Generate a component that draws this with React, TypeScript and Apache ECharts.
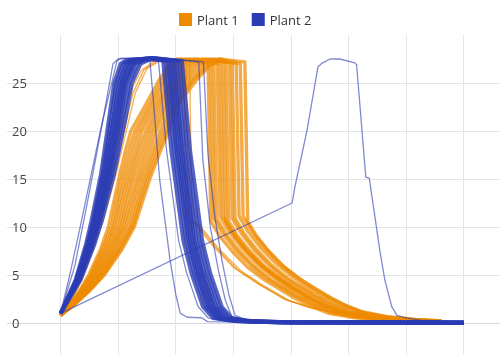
import React, { useEffect, useRef } from "react";
import * as echarts from "echarts";

type Curve = number[][];

const seriesNames = ["Plant 1", "Plant 2"];
const seriesColors = ["#ee8a00", "#2b3cb4"];
const yTickValues = [0, 5, 10, 15, 20, 25];
const xGridValues = [0, 1, 2, 3, 4, 5, 6, 7];

// Plant 1: main bundle (rise, plateau, drop, decay)
const plant1Main: Curve[] = [
  [[0,0.8],[0.16,1.9],[0.31,3.2],[0.49,5.0],[0.69,7.6],[0.83,10],[1.01,15],[1.13,18],[1.22,20],[1.50,23],[1.71,25.3],[1.88,26.8],[2.02,27.5],[2.61,27.1],[2.66,10.9],[2.82,9.3],[3.04,7.6],[3.30,6.0],[3.59,4.6],[3.86,3.6],[4.11,2.7],[4.37,1.9],[4.71,1.1],[5.16,0.6],[5.66,0.35],[6.26,0.2]],
  [[0,0.8],[0.16,1.9],[0.33,3.2],[0.52,5.0],[0.72,7.6],[0.88,10],[1.06,15],[1.19,18],[1.29,20],[1.56,23],[1.77,25.3],[1.95,26.8],[2.09,27.5],[2.56,27.2],[2.61,10.6],[2.77,9.0],[2.99,7.4],[3.25,5.8],[3.54,4.5],[3.81,3.5],[4.06,2.6],[4.32,1.8],[4.66,1.0],[5.11,0.55],[5.61,0.3],[6.21,0.18]],
  [[0,0.8],[0.17,1.9],[0.34,3.2],[0.54,5.0],[0.76,7.6],[0.92,10],[1.11,15],[1.25,18],[1.35,20],[1.61,23],[1.83,25.3],[2.01,26.8],[2.17,27.5],[2.72,27.0],[2.77,11.1],[2.93,9.5],[3.15,7.8],[3.41,6.2],[3.70,4.8],[3.97,3.7],[4.22,2.8],[4.48,2.0],[4.82,1.2],[5.27,0.65],[5.77,0.38],[6.37,0.22]],
  [[0,0.8],[0.18,1.9],[0.36,3.2],[0.57,5.0],[0.79,7.6],[0.96,10],[1.16,15],[1.31,18],[1.41,20],[1.67,23],[1.90,25.3],[2.08,26.8],[2.24,27.5],[2.66,27.1],[2.71,10.9],[2.87,9.3],[3.09,7.6],[3.35,6.0],[3.64,4.6],[3.91,3.6],[4.16,2.7],[4.42,1.9],[4.76,1.1],[5.21,0.6],[5.71,0.35],[6.31,0.2]],
  [[0,0.8],[0.19,1.9],[0.38,3.2],[0.59,5.0],[0.83,7.6],[1.01,10],[1.21,15],[1.36,18],[1.48,20],[1.72,23],[1.96,25.3],[2.15,26.8],[2.31,27.5],[2.82,27.2],[2.87,10.6],[3.03,9.0],[3.25,7.4],[3.51,5.8],[3.80,4.5],[4.07,3.5],[4.32,2.6],[4.58,1.8],[4.92,1.0],[5.37,0.55],[5.87,0.3],[6.47,0.18]],
  [[0,0.8],[0.20,1.9],[0.39,3.2],[0.62,5.0],[0.86,7.6],[1.05,10],[1.26,15],[1.42,18],[1.54,20],[1.77,23],[2.02,25.3],[2.22,26.8],[2.38,27.5],[2.77,27.0],[2.82,11.1],[2.98,9.5],[3.20,7.8],[3.46,6.2],[3.75,4.8],[4.02,3.7],[4.27,2.8],[4.53,2.0],[4.87,1.2],[5.32,0.65],[5.82,0.38],[6.42,0.22]],
  [[0,0.8],[0.20,1.9],[0.41,3.2],[0.64,5.0],[0.90,7.6],[1.09,10],[1.32,15],[1.48,18],[1.60,20],[1.83,23],[2.08,25.3],[2.28,26.8],[2.46,27.5],[2.93,27.1],[2.98,10.9],[3.14,9.3],[3.36,7.6],[3.62,6.0],[3.91,4.6],[4.18,3.6],[4.43,2.7],[4.69,1.9],[5.03,1.1],[5.48,0.6],[5.98,0.35],[6.58,0.2]],
  [[0,0.8],[0.21,1.9],[0.42,3.2],[0.67,5.0],[0.93,7.6],[1.13,10],[1.37,15],[1.54,18],[1.66,20],[1.88,23],[2.14,25.3],[2.35,26.8],[2.53,27.5],[2.87,27.2],[2.92,10.6],[3.08,9.0],[3.30,7.4],[3.56,5.8],[3.85,4.5],[4.12,3.5],[4.37,2.6],[4.63,1.8],[4.97,1.0],[5.42,0.55],[5.92,0.3],[6.52,0.18]],
  [[0,0.8],[0.22,1.9],[0.44,3.2],[0.69,5.0],[0.97,7.6],[1.18,10],[1.42,15],[1.60,18],[1.73,20],[1.94,23],[2.20,25.3],[2.42,26.8],[2.60,27.5],[3.05,27.0],[3.10,11.1],[3.26,9.5],[3.48,7.8],[3.74,6.2],[4.03,4.8],[4.30,3.7],[4.55,2.8],[4.81,2.0],[5.15,1.2],[5.60,0.65],[6.10,0.38],[6.62,0.22]],
  [[0,0.8],[0.23,1.9],[0.46,3.2],[0.72,5.0],[1.00,7.6],[1.22,10],[1.47,15],[1.65,18],[1.79,20],[1.99,23],[2.27,25.3],[2.49,26.8],[2.67,27.5],[2.98,27.1],[3.03,10.9],[3.19,9.3],[3.41,7.6],[3.67,6.0],[3.96,4.6],[4.23,3.6],[4.48,2.7],[4.74,1.9],[5.08,1.1],[5.53,0.6],[6.03,0.35],[6.62,0.2]],
  [[0,0.8],[0.23,1.9],[0.47,3.2],[0.74,5.0],[1.03,7.6],[1.25,10],[1.51,15],[1.70,18],[1.84,20],[2.03,23],[2.31,25.3],[2.54,26.8],[2.73,27.5],[3.20,27.2],[3.25,10.6],[3.41,9.0],[3.63,7.4],[3.89,5.8],[4.18,4.5],[4.45,3.5],[4.70,2.6],[4.96,1.8],[5.30,1.0],[5.75,0.55],[6.25,0.3],[6.62,0.18]],
  [[0,0.8],[0.24,1.9],[0.48,3.2],[0.76,5.0],[1.06,7.6],[1.28,10],[1.55,15],[1.74,18],[1.88,20],[2.07,23],[2.36,25.3],[2.59,26.8],[2.78,27.5],[3.12,27.0],[3.17,11.1],[3.33,9.5],[3.55,7.8],[3.81,6.2],[4.10,4.8],[4.37,3.7],[4.62,2.8],[4.88,2.0],[5.22,1.2],[5.67,0.65],[6.17,0.38],[6.62,0.22]],
];

// Plant 1: early risers with the lower decay path
const plant1Early: Curve[] = [
  [[0,0.8],[0.18,2.5],[0.35,5.0],[0.55,8.5],[0.68,11],[0.85,15],[1.02,19.5],[1.20,24],[1.40,26.3],[1.65,27.4],[2.18,27.3],[2.22,10.7],[2.37,10.3],[2.68,8.0],[3.06,5.6],[3.46,4.0],[3.93,2.4],[4.33,1.6],[4.85,0.95],[5.55,0.5],[6.41,0.25]],
  [[0,0.8],[0.20,2.5],[0.38,5.0],[0.58,8.5],[0.72,11],[0.90,15],[1.08,19.5],[1.26,24],[1.45,26.4],[1.70,27.4],[2.24,27.3],[2.28,10.5],[2.42,10.1],[2.74,7.8],[3.12,5.5],[3.52,3.9],[3.98,2.3],[4.38,1.6],[4.90,0.9],[5.60,0.48],[6.45,0.24]],
  [[0,0.8],[0.22,2.6],[0.40,5.0],[0.62,8.6],[0.76,11],[0.94,15],[1.12,19.5],[1.30,24],[1.50,26.5],[1.75,27.4],[2.14,27.3],[2.18,10.8],[2.33,10.4],[2.62,8.2],[3.00,5.8],[3.40,4.2],[3.88,2.5],[4.28,1.7],[4.80,1.0],[5.50,0.52],[6.38,0.26]],
];

// Plant 2: main bundle
const plant2Main: Curve[] = [
  [[0,1.0],[0.26,4.5],[0.44,8.2],[0.53,10.5],[0.70,15.5],[0.84,21.3],[0.93,25.0],[1.04,27.0],[1.14,27.4],[1.50,27.5],[1.90,27.3],[2.04,18],[2.25,8.6],[2.39,5.2],[2.59,1.7],[2.77,0.5],[3.12,0.2],[3.81,0.08],[7,0.03]],
  [[0,1.0],[0.27,4.5],[0.46,8.2],[0.56,10.5],[0.73,15.5],[0.88,21.3],[0.97,25.0],[1.09,27.0],[1.20,27.4],[1.55,27.6],[1.83,27.3],[1.97,18],[2.18,8.6],[2.32,5.2],[2.52,1.7],[2.70,0.5],[3.05,0.2],[3.74,0.08],[7,0.03]],
  [[0,1.0],[0.28,4.5],[0.48,8.2],[0.58,10.5],[0.76,15.5],[0.92,21.3],[1.02,25.0],[1.14,27.0],[1.25,27.4],[1.58,27.6],[2.01,27.3],[2.15,18],[2.36,8.6],[2.50,5.2],[2.70,1.7],[2.88,0.5],[3.23,0.2],[3.92,0.08],[7,0.03]],
  [[0,1.0],[0.29,4.5],[0.49,8.2],[0.60,10.5],[0.79,15.5],[0.95,21.3],[1.05,25.0],[1.17,27.0],[1.29,27.4],[1.52,27.6],[1.94,27.3],[2.08,18],[2.29,8.6],[2.43,5.2],[2.63,1.7],[2.81,0.5],[3.16,0.2],[3.85,0.08],[7,0.03]],
  [[0,1.0],[0.30,4.5],[0.51,8.2],[0.62,10.5],[0.81,15.5],[0.98,21.3],[1.08,25.0],[1.21,27.0],[1.33,27.4],[1.62,27.6],[2.11,27.3],[2.25,18],[2.46,8.6],[2.60,5.2],[2.80,1.7],[2.98,0.5],[3.33,0.2],[4.02,0.08],[7,0.03]],
  [[0,1.0],[0.31,4.5],[0.53,8.2],[0.64,10.5],[0.83,15.5],[1.01,21.3],[1.11,25.0],[1.25,27.0],[1.37,27.4],[1.56,27.5],[1.87,27.3],[2.01,18],[2.22,8.6],[2.36,5.2],[2.56,1.7],[2.74,0.5],[3.09,0.2],[3.78,0.08],[7,0.03]],
  [[0,1.0],[0.32,4.5],[0.54,8.2],[0.66,10.5],[0.86,15.5],[1.04,21.3],[1.14,25.0],[1.28,27.0],[1.41,27.4],[1.60,27.6],[1.97,27.3],[2.11,18],[2.32,8.6],[2.46,5.2],[2.66,1.7],[2.84,0.5],[3.19,0.2],[3.88,0.08],[7,0.03]],
  [[0,1.0],[0.33,4.5],[0.56,8.2],[0.68,10.5],[0.89,15.5],[1.08,21.3],[1.19,25.0],[1.33,27.0],[1.46,27.4],[1.65,27.6],[2.06,27.3],[2.20,18],[2.41,8.6],[2.55,5.2],[2.75,1.7],[2.93,0.5],[3.28,0.2],[3.97,0.08],[7,0.03]],
  [[0,1.0],[0.35,4.5],[0.59,8.2],[0.71,10.5],[0.93,15.5],[1.13,21.3],[1.24,25.0],[1.39,27.0],[1.53,27.4],[1.62,27.5],[1.78,27.3],[1.92,18],[2.13,8.6],[2.27,5.2],[2.47,1.7],[2.65,0.5],[3.00,0.2],[3.69,0.08],[7,0.03]],
];

// Plant 2: individual runs outside the main bundle
const plant2Outliers: Curve[] = [
  [[0,1.0],[0.16,5],[0.34,10],[0.69,20],[0.98,27.3],[1.05,27.6],[1.30,27.6],[1.55,27.4],[1.60,24],[1.72,15],[1.90,6.6],[2.00,3.0],[2.08,1.0],[2.20,0.6],[2.45,0.55],[2.55,0.15],[3.50,0.06],[7,0.03]],
  [[0,1.0],[0.25,6],[0.48,13],[0.70,20],[0.91,27],[1.00,27.5],[1.40,27.6],[1.70,27.3],[1.84,18],[2.05,8.6],[2.19,5.2],[2.39,1.7],[2.57,0.5],[2.92,0.2],[3.61,0.08],[7,0.03]],
  [[0,1.0],[0.32,4.5],[0.54,8.2],[0.65,10.5],[0.85,15.5],[1.03,21.3],[1.13,25.0],[1.27,27.0],[1.40,27.4],[1.80,27.6],[2.48,27.2],[2.56,17.5],[2.68,11],[2.80,6.6],[2.92,3.0],[3.03,0.8],[3.20,0.35],[3.80,0.12],[7,0.04]],
  [[0,1.0],[0.28,4.5],[0.47,8.2],[0.57,10.5],[0.75,15.5],[0.90,21.3],[0.99,25.0],[1.11,27.0],[1.22,27.4],[1.70,27.6],[2.40,27.2],[2.47,17],[2.60,10],[2.74,5.5],[2.86,2.4],[2.97,0.7],[3.15,0.3],[3.80,0.1],[7,0.04]],
  [[0,1.0],[4.02,12.5],[4.07,14.2],[4.28,20.1],[4.47,26.7],[4.55,27.1],[4.68,27.5],[4.85,27.5],[5.11,27.1],[5.14,26.9],[5.30,15.2],[5.36,15.1],[5.55,7.3],[5.63,4.5],[5.72,2.4],[5.75,1.7],[5.84,0.8],[6.02,0.5],[6.24,0.3],[6.71,0.2],[7.0,0.1]],
];

const FONT = "'Open Sans', 'Noto Sans', sans-serif";

function makeSeries(curves: Curve[], idx: number, width: number, opacity: number): any[] {
  return curves.map((c) => ({
    type: "line",
    name: seriesNames[idx],
    data: c,
    symbol: "none",
    showSymbol: false,
    silent: true,
    itemStyle: { color: seriesColors[idx] },
    lineStyle: { color: seriesColors[idx], width, opacity, join: "round" },
    emphasis: { disabled: true },
  }));
}

export default function App() {
  const ref = useRef<HTMLDivElement>(null);
  useEffect(() => {
    if (!ref.current) return;
    const chart = echarts.init(ref.current, null, { renderer: "svg" });
    const series = [
      ...makeSeries(plant1Main, 0, 3.4, 0.72),
      ...makeSeries(plant1Early, 0, 1.4, 0.65),
      ...makeSeries(plant2Main, 1, 3.8, 0.8),
      ...makeSeries(plant2Outliers, 1, 1.3, 0.6),
    ];
    chart.setOption({
      animation: false,
      legend: {
        data: seriesNames.map((n, i) => ({ name: n, itemStyle: { color: seriesColors[i], opacity: 1 } })),
        icon: "rect",
        left: 179,
        top: 13,
        padding: 0,
        itemWidth: 13,
        itemHeight: 13,
        itemGap: 13,
        selectedMode: false,
        textStyle: { fontSize: 13, color: "#333", fontFamily: FONT },
      },
      grid: { left: 7, right: 0, top: 35, bottom: 5, containLabel: false },
      xAxis: {
        type: "value",
        min: -0.93,
        max: 7.63,
        axisLine: { show: false },
        axisTick: { show: false, customValues: xGridValues },
        axisLabel: { show: false, customValues: xGridValues },
        splitLine: { show: true, lineStyle: { color: "#e4e4e4", width: 1 } },
      },
      yAxis: {
        type: "value",
        min: -3.33,
        max: 30,
        axisLine: { show: false },
        axisTick: { show: false, customValues: yTickValues },
        axisLabel: {
          inside: true,
          margin: 5,
          customValues: yTickValues,
          color: "#444",
          fontSize: 13,
          fontFamily: FONT,
          align: "left",
          verticalAlign: "middle",
        },
        splitLine: { show: true, lineStyle: { color: ["#dadada", "#e4e4e4", "#e4e4e4", "#e4e4e4", "#e4e4e4", "#e4e4e4"], width: 1 } },
      },
      series,
    });
    return () => chart.dispose();
  }, []);
  return <div ref={ref} style={{ position: "fixed", left: 0, top: 0, width: 500, height: 360 }} />;
}
